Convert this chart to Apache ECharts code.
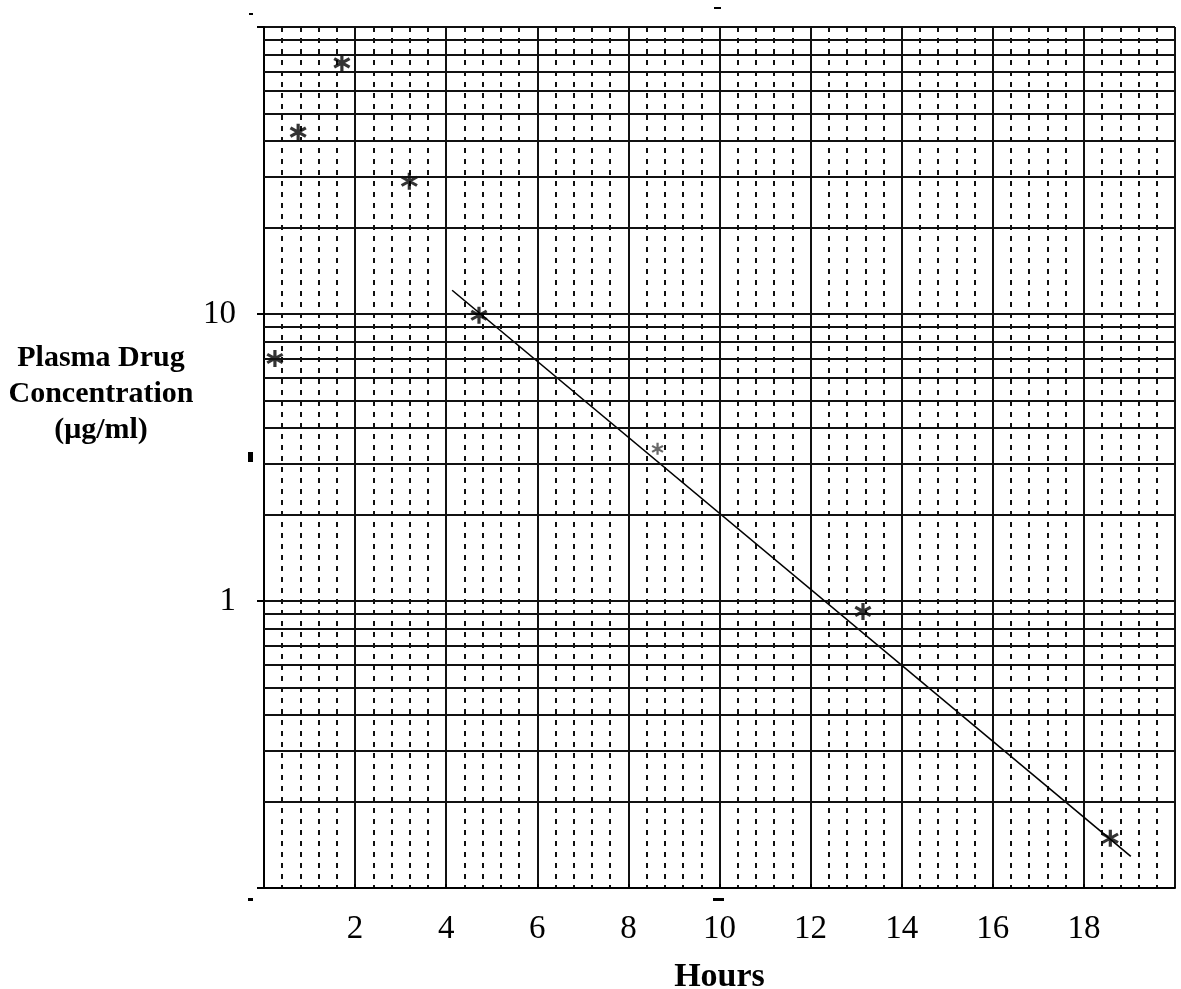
<!DOCTYPE html>
<html>
<head>
<meta charset="utf-8">
<title>Plasma Drug Concentration</title>
<script src="https://cdn.jsdelivr.net/npm/echarts@6/dist/echarts.min.js"></script>
<style>
  html, body { margin: 0; padding: 0; background: #fff; }
  #chart { width: 1181px; height: 989px; }
</style>
</head>
<body>
<div id="chart"></div>
<script>
// measured points (hours, ug/ml)
const hours = [0.24, 0.75, 1.71, 3.19, 4.72, 8.64, 13.15, 18.58]
const conc = [7, 43, 75, 29, 9.9, 3.39, 0.92, 0.149]
// the one drawn lighter on the paper
const faintPoint = 5

// fitted elimination line, two ends
const fitHours = [4.13, 19.03]
const fitConc = [12.1, 0.129]

// y labels that are printed
const yLabels = [1, 10]

// 1..9 lines inside each decade of the log paper
const decades = [0.1, 1, 10]
const logLines = []
decades.forEach(d => {
    for (let k = 2; k <= 9; k++) logLines.push(k * d)
})

// six armed asterisk
const star = 'path://M-0.18,-1L0.18,-1L0.18,1L-0.18,1Z' +
    'M0.776,-0.656L0.956,-0.344L-0.776,0.656L-0.956,0.344Z' +
    'M-0.956,-0.344L-0.776,-0.656L0.956,0.344L0.776,0.656Z'

const serif = '"Liberation Serif", "Times New Roman", serif'

const myChart = echarts.init(document.getElementById('chart'))

const pointData = hours.map((h, i) => {
    if (i === faintPoint) {
        return { value: [h, conc[i]], symbolSize: 12, itemStyle: { color: '#444' } }
    }
    return [h, conc[i]]
})

myChart.setOption({
    animation: false,
    backgroundColor: '#fff',
    grid: { left: 264, right: 6, top: 27, bottom: 101, containLabel: false, outerBoundsMode: 'none' },
    xAxis: {
        type: 'value',
        min: 0,
        max: 20,
        interval: 2,
        name: 'Hours',
        nameLocation: 'middle',
        nameGap: 72,
        nameTextStyle: { fontFamily: serif, fontWeight: 'bold', fontSize: 34, color: '#000' },
        axisLine: { show: true, lineStyle: { color: '#000', width: 2 } },
        axisTick: { show: true, inside: true, length: 4, lineStyle: { color: '#000', width: 2 } },
        axisLabel: {
            margin: 25,
            fontFamily: serif,
            fontSize: 33,
            color: '#000',
            showMinLabel: false,
            showMaxLabel: false
        },
        splitLine: { show: true, lineStyle: { color: '#111', width: 2 } },
        minorTick: { show: false, splitNumber: 5 },
        minorSplitLine: { show: true, lineStyle: { color: '#111', width: 2, type: [5, 6] } }
    },
    yAxis: {
        type: 'log',
        logBase: 10,
        min: 0.1,
        max: 100,
        axisLine: { show: true, lineStyle: { color: '#000', width: 2 } },
        axisTick: { show: true, length: 7, lineStyle: { color: '#000', width: 2 } },
        axisLabel: {
            margin: 28,
            fontFamily: serif,
            fontSize: 33,
            color: '#000',
            formatter: v => {
                const hit = yLabels.find(l => Math.abs(l - v) < 1e-6 * l)
                return hit ? String(hit) : ''
            }
        },
        splitLine: { show: true, lineStyle: { color: '#111', width: 2 } }
    },
    graphic: [
        {
            type: 'text',
            x: 101,
            y: 340,
            style: {
                text: 'Plasma Drug\nConcentration\n(\u03bcg/ml)',
                fontFamily: serif,
                fontWeight: 'bold',
                fontSize: 30,
                lineHeight: 36,
                fill: '#000',
                align: 'center',
                verticalAlign: 'top'
            }
        },
        // little stray marks left on the scanned paper
        { type: 'rect', shape: { x: 249, y: 13, width: 4, height: 2 }, style: { fill: '#000' } },
        { type: 'rect', shape: { x: 714, y: 7, width: 7, height: 2 }, style: { fill: '#000' } },
        { type: 'rect', shape: { x: 248, y: 452, width: 5, height: 10 }, style: { fill: '#000' } },
        { type: 'rect', shape: { x: 248, y: 898, width: 5, height: 3 }, style: { fill: '#000' } },
        { type: 'rect', shape: { x: 713, y: 898, width: 11, height: 3 }, style: { fill: '#000' } }
    ],
    series: [
        {
            name: 'fit',
            type: 'line',
            data: fitHours.map((h, i) => [h, fitConc[i]]),
            symbol: 'none',
            lineStyle: { color: '#000', width: 1.6 },
            z: 3,
            markLine: {
                silent: true,
                symbol: 'none',
                label: { show: false },
                lineStyle: { color: '#111', width: 2, type: 'solid' },
                data: logLines.map(v => ({ yAxis: v }))
            }
        },
        {
            name: 'measured',
            type: 'scatter',
            data: pointData,
            symbol: star,
            symbolSize: 17,
            itemStyle: { color: '#000' },
            z: 4
        }
    ]
})
</script>
</body>
</html>
